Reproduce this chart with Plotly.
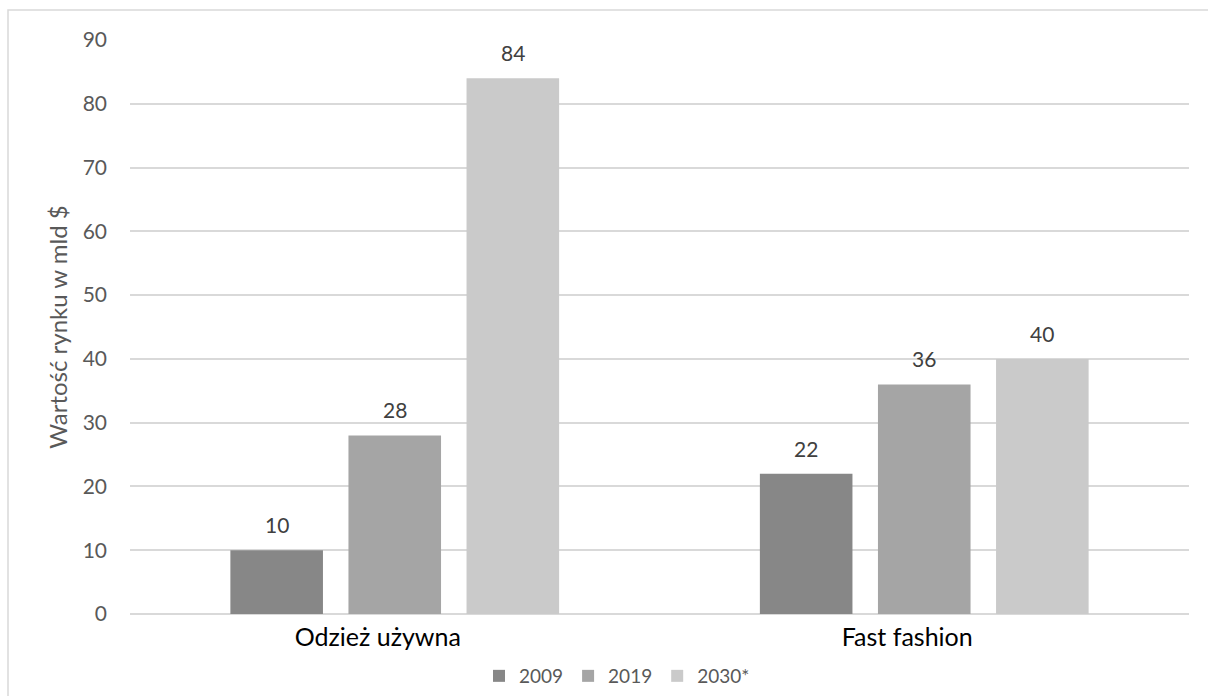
import plotly.graph_objects as go

# Market value (bn $) by segment and year
categories = ["Odzież używna", "Fast fashion"]
years = ["2009", "2019", "2030*"]
values_2009 = [10, 22]
values_2019 = [28, 36]
values_2030 = [84, 40]
series = [values_2009, values_2019, values_2030]
colors = ["#878787", "#a5a5a5", "#cacaca"]
y_ticks = list(range(0, 91, 10))

FONT = "Lato"
TICK_COLOR = "#595959"
LABEL_COLOR = "#404040"
GRID = "#d9d9d9"

fig = go.Figure()
for name, vals, col in zip(years, series, colors):
    fig.add_trace(go.Bar(
        name=name, x=categories, y=vals,
        marker=dict(color=col, line=dict(width=0)),
    ))

# value labels above each bar, shifted to its slot in the group
slot_px = 118
for i, vals in enumerate(series):
    for cat, v in zip(categories, vals):
        fig.add_annotation(
            x=cat, y=v, xref="x", yref="y", text=str(v),
            showarrow=False, yanchor="bottom", xshift=(i - 1) * slot_px,
            yshift=11, font=dict(family=FONT, size=21, color=LABEL_COLOR),
        )

# outer frame
fig.add_shape(type="rect", xref="paper", yref="paper",
              x0=-0.1152, x1=1.1, y0=1.0523, y1=-0.2,
              line=dict(color=GRID, width=1.5), layer="below")

fig.update_layout(
    width=1208, height=696,
    margin=dict(l=130, r=19, t=40, b=82, autoexpand=False),
    paper_bgcolor="white", plot_bgcolor="white",
    barmode="group", bargap=0.331, bargroupgap=0.216,
    font=dict(family=FONT, color=TICK_COLOR),
    showlegend=True,
    legend=dict(
        orientation="h", xref="container", x=479 / 1208, xanchor="left",
        yref="container", y=(696 - 676) / 696, yanchor="middle",
        font=dict(family=FONT, size=19, color=TICK_COLOR),
        itemwidth=30, tracegroupgap=0,
    ),
    xaxis=dict(
        automargin=False,
        showgrid=False, showline=False, ticks="", ticklabelstandoff=6,
        ticklabelshift=-17,
        tickfont=dict(family=FONT, size=25, color="#000000"),
    ),
    yaxis=dict(
        automargin=False,
        range=[0, 90], tickvals=y_ticks, showgrid=True, gridcolor=GRID,
        gridwidth=1.5, zeroline=True, zerolinecolor=GRID, zerolinewidth=1.5,
        showline=False, ticks="", ticklabelstandoff=22,
        tickfont=dict(family=FONT, size=21, color=TICK_COLOR),
        title=dict(text="Wartość rynku w mld $", standoff=8,
                   font=dict(family=FONT, size=24, color=TICK_COLOR)),
    ),
)

fig.write_html("out.html")
